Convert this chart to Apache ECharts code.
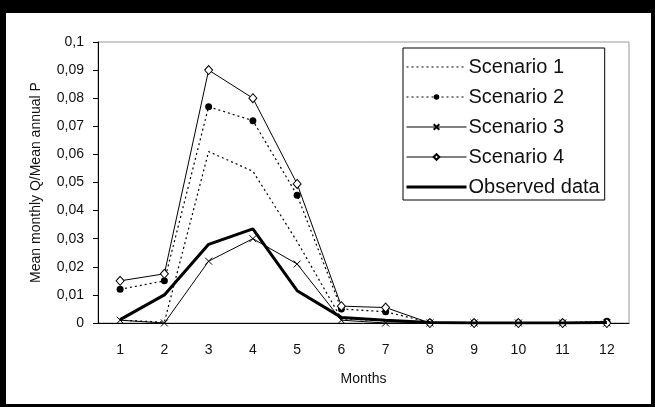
<!DOCTYPE html>
<html>
<head>
<meta charset="utf-8">
<script src="https://cdn.jsdelivr.net/npm/echarts@6/dist/echarts.min.js"></script>
<style>
html,body{margin:0;padding:0;background:#fff;}
#c{width:655px;height:407px;}
</style>
</head>
<body>
<div id="c"></div>
<script>
var months = ['1','2','3','4','5','6','7','8','9','10','11','12'];
var scenario1 = [0.001, 0.0003, 0.061, 0.054, 0.029, 0.0015, 0.0008, 0, 0, 0, 0, 0];
var scenario2 = [0.012, 0.015, 0.077, 0.072, 0.0455, 0.005, 0.004, 0.0002, 0.0001, 0.0001, 0.0001, 0.0006];
var scenario3 = [0.001, 0, 0.022, 0.030, 0.021, 0.001, 0, 0, 0, 0, 0, 0];
var scenario4 = [0.015, 0.0175, 0.090, 0.080, 0.0495, 0.006, 0.0055, 0, 0, 0, 0, 0];
var observed = [0.0012, 0.010, 0.028, 0.0335, 0.0115, 0.002, 0.001, 0.0002, 0, 0, 0, 0.0002];
var seriesNames = ['Scenario 1','Scenario 2','Scenario 3','Scenario 4','Observed data'];

var chart = echarts.init(document.getElementById('c'));
var font = 'Liberation Sans, Arial, sans-serif';
var crossPath = 'path://M0,0L10,10M10,0L0,10';

chart.setOption({
  backgroundColor: '#fff',
  animation: false,
  textStyle: {fontFamily: font},
  grid: {left: 98, top: 42, right: 26, bottom: 84, show: true, borderColor: '#999', borderWidth: 1, backgroundColor: 'transparent'},
  legend: {
    orient: 'vertical',
    left: 403, top: 48,
    padding: [9, 5, 3, 2],
    itemWidth: 60, itemHeight: 7, itemGap: 10,
    backgroundColor: '#fff',
    borderColor: '#000', borderWidth: 1,
    textStyle: {fontSize: 20, color: '#111', fontFamily: font, padding: [0, 0, 0, -3]},
    data: [
      {name: seriesNames[0], itemStyle: {opacity: 0}, lineStyle: {width: 1.2}},
      {name: seriesNames[1], lineStyle: {width: 1.2}},
      {name: seriesNames[2], lineStyle: {width: 1}},
      {name: seriesNames[3], lineStyle: {width: 1}},
      {name: seriesNames[4], itemStyle: {opacity: 0}, lineStyle: {width: 3}}
    ]
  },
  xAxis: {
    type: 'category',
    data: months,
    name: 'Months',
    nameLocation: 'middle',
    nameGap: 49,
    nameTextStyle: {fontSize: 14, color: '#111'},
    axisLine: {lineStyle: {color: '#000', width: 1}},
    axisTick: {length: 5, lineStyle: {color: '#000'}},
    axisLabel: {fontSize: 14, color: '#111', margin: 20}
  },
  yAxis: {
    type: 'value',
    min: 0, max: 0.1, interval: 0.01,
    name: 'Mean monthly Q/Mean annual P',
    nameLocation: 'middle',
    nameGap: 55,
    nameTextStyle: {fontSize: 14, color: '#111'},
    axisLine: {show: true, lineStyle: {color: '#000', width: 1}},
    axisTick: {show: true, length: 5, lineStyle: {color: '#000'}},
    splitLine: {show: false},
    axisLabel: {fontSize: 14, color: '#111', margin: 14,
      formatter: function(v){ return parseFloat(v.toFixed(2)).toString().replace('.', ','); }}
  },
  graphic: [
    {type: 'rect', shape: {x: 0, y: 0, width: 655, height: 13}, style: {fill: '#000'}, z: 100},
    {type: 'rect', shape: {x: 0, y: 0, width: 6, height: 407}, style: {fill: '#000'}, z: 100},
    {type: 'rect', shape: {x: 651, y: 0, width: 4, height: 407}, style: {fill: '#000'}, z: 100},
    {type: 'rect', shape: {x: 0, y: 404, width: 655, height: 3}, style: {fill: '#000'}, z: 100}
  ],
  series: [
    {name: seriesNames[0], type: 'line', data: scenario1, symbol: 'none', showSymbol: false,
      lineStyle: {color: '#000', width: 1.2, type: [2, 3]}, itemStyle: {color: '#000'}},
    {name: seriesNames[1], type: 'line', data: scenario2, symbol: 'circle', symbolSize: 7,
      lineStyle: {color: '#000', width: 1.2, type: [2, 3]}, itemStyle: {color: '#000'}},
    {name: seriesNames[2], type: 'line', data: scenario3, symbol: crossPath, symbolSize: 7,
      lineStyle: {color: '#000', width: 1}, itemStyle: {color: 'none', borderColor: '#000', borderWidth: 1}},
    {name: seriesNames[3], type: 'line', data: scenario4, symbol: 'diamond', symbolSize: [8, 9],
      lineStyle: {color: '#000', width: 1}, itemStyle: {color: '#fff', borderColor: '#000', borderWidth: 1}},
    {name: seriesNames[4], type: 'line', data: observed, symbol: 'none', showSymbol: false, z: 5,
      lineStyle: {color: '#000', width: 3}, itemStyle: {color: '#000'}}
  ]
});
</script>
</body>
</html>
